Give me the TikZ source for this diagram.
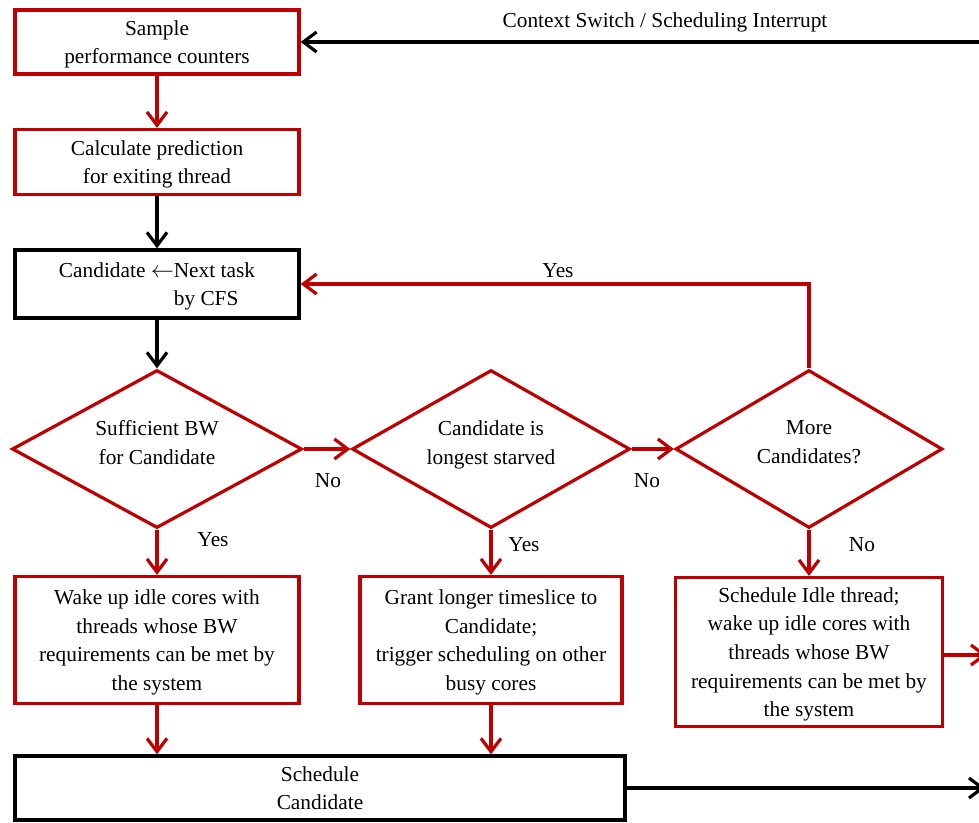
\documentclass[tikz,border=0pt]{standalone}
\usepackage{fontspec}
\setmainfont{Liberation Serif}
\usetikzlibrary{arrows.meta,shapes.geometric}
\definecolor{flowred}{RGB}{192,0,0}
\tikzset{
  box/.style={draw, line width=2.4pt, inner sep=0pt, align=center, text depth=0pt, font=\fontsize{16}{21.5}\selectfont},
  redbox/.style={box, draw=flowred},
  blackbox/.style={box, draw=black},
  decision/.style={diamond, draw=flowred, line width=2.4pt, inner sep=0pt, align=center, aspect=1.76,
    text depth=10pt, minimum height=118.5pt, font=\fontsize{16}{21.5}\selectfont},
  redline/.style={draw=flowred, line width=2.4pt, -{Straight Barb[length=10pt,width=15pt,line width=2.4pt]}},
  blackline/.style={draw=black, line width=2.4pt, -{Straight Barb[length=10pt,width=15pt,line width=2.4pt]}},
  lbl/.style={font=\fontsize{16}{21.5}\selectfont, inner sep=0pt}
}
\begin{document}
\begin{tikzpicture}[x=0.75pt, y=-0.75pt]
			%%%%% START %%%%%
			\useasboundingbox (0, 0) rectangle (979, 822);
			
			\node[redbox, minimum width=213pt, minimum height=48pt] (sample) at (157, 42) {Sample\\performance counters};
			\node[redbox, minimum width=213pt, minimum height=48.75pt] (calc) at (157, 162) {Calculate prediction\\for exiting thread};
			\node[blackbox, minimum width=213pt, minimum height=51pt, align=left] (cand) at (157, 284) {Candidate $\leftarrow$Next task\\\phantom{Candidate $\leftarrow$}by CFS};
			
			\node[decision, minimum width=217.5pt] (bw) at (157, 449) {Sufficient BW\\for Candidate};
			\node[decision, minimum width=208.5pt] (starved) at (491, 449) {Candidate is\\longest starved};
			\node[decision, minimum width=200.25pt] (more) at (809, 449) {More\\Candidates?};
			
			\node[redbox, minimum width=213pt, minimum height=95.25pt] (wake) at (157, 640) {Wake up idle cores with\\threads whose BW\\requirements can be met by\\the system};
			\node[redbox, minimum width=196.5pt, minimum height=95.25pt] (grant) at (491, 640) {Grant longer timeslice to\\Candidate;\\trigger scheduling on other\\busy cores};
			\node[redbox, minimum width=200.25pt, minimum height=111.75pt] (idle) at (809, 652) {Schedule Idle thread;\\wake up idle cores with\\threads whose BW\\requirements can be met by\\the system};
			\node[blackbox, minimum width=457.5pt, minimum height=48pt] (sched) at (320, 788) {Schedule\\Candidate};
			
			\coordinate (irq) at (980, 42);
			\coordinate (outidle) at (987, 655);
			\coordinate (outsched) at (985, 788);
			
			\draw[blackline] (irq) -- (sample.east);
			\draw[redline] (sample) -- (calc);
			\draw[blackline] (calc) -- (cand);
			\draw[blackline] (cand) -- (bw.north);
			\draw[redline] (bw.east) -- (starved.west);
			\draw[redline] (starved.east) -- (more.west);
			\draw[redline] (more.north) |- (cand.east);
			\draw[redline] (bw.south) -- (wake.north);
			\draw[redline] (starved.south) -- (grant.north);
			\draw[redline] (more.south) -- (idle.north);
			\draw[redline] (wake.south) -- (wake.south |- sched.north);
			\draw[redline] (grant.south) -- (grant.south |- sched.north);
			\draw[redline] (idle.east |- outidle) -- (outidle);
			\draw[blackline] (sched.east) -- (outsched);
			
			\node[lbl] (lctx) at (665, 22) {Context Switch / Scheduling Interrupt};
			\node[lbl] (lyes1) at (558, 271) {Yes};
			\node[lbl] (lno1) at (328, 481) {No};
			\node[lbl] (lno2) at (647, 481) {No};
			\node[lbl] (lyes2) at (213, 540) {Yes};
			\node[lbl] (lyes3) at (524, 545) {Yes};
			\node[lbl] (lno3) at (862, 545) {No};
			
			%%%%% END %%%%%
\end{tikzpicture}
\end{document}
